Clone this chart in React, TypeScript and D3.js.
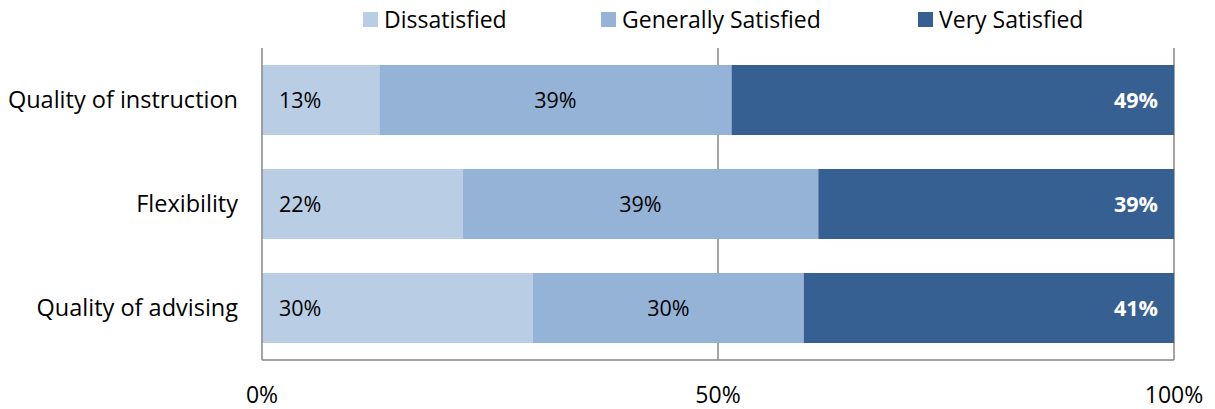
import { useEffect, useRef } from 'react';
import * as d3 from 'd3';

const categories = ['Quality of instruction', 'Flexibility', 'Quality of advising'];
const seriesNames = ['Dissatisfied', 'Generally Satisfied', 'Very Satisfied'];
const dissatisfied = [13, 22, 30];
const generallySatisfied = [39, 39, 30];
const verySatisfied = [49, 39, 41];
const xTicks = [0, 0.5, 1];

const colors = ['#B9CDE5', '#95B3D7', '#376092'];
const FONT = "'Open Sans', sans-serif";

const App: React.FC = () => {
  const svgRef = useRef<SVGSVGElement | null>(null);

  useEffect(() => {
    if (svgRef.current === null) return;
    const width = 1215;
    const height = 409;
    const margin = { top: 48, right: 41, bottom: 49, left: 262 };

    const svg = d3.select(svgRef.current).attr('width', width).attr('height', height);
    svg.selectAll('*').remove();

    // satır tablosu: her kategori için yüzdeye çevrilmiş değerler
    const rows = categories.map((c, i) => {
      const vals = [dissatisfied[i], generallySatisfied[i], verySatisfied[i]];
      const total = d3.sum(vals);
      return { category: c, vals, shares: vals.map((v) => v / total) };
    });

    const x = d3.scaleLinear().domain([0, 1]).range([margin.left, width - margin.right]);
    const y = d3
      .scaleBand<string>()
      .domain(categories)
      .range([margin.top, height - margin.bottom])
      .paddingInner(0.327)
      .paddingOuter(0.1635);

    // grid lines
    svg
      .selectAll('.grid')
      .data(xTicks.slice(1))
      .enter()
      .append('line')
      .attr('x1', (d) => x(d))
      .attr('x2', (d) => x(d))
      .attr('y1', margin.top)
      .attr('y2', height - margin.bottom)
      .attr('stroke', '#868686')
      .attr('stroke-width', 1.5);

    // bars
    rows.forEach((r) => {
      let acc = 0;
      r.shares.forEach((s, j) => {
        const x0 = x(acc);
        const x1 = x(acc + s);
        acc += s;
        svg
          .append('rect')
          .attr('x', x0)
          .attr('y', y(r.category)!)
          .attr('width', x1 - x0)
          .attr('height', y.bandwidth())
          .attr('fill', colors[j]);

        const ty = y(r.category)! + y.bandwidth() / 2 + 8;
        const t = svg
          .append('text')
          .attr('y', ty)
          .attr('font-family', FONT)
          .attr('font-size', 21.5)
          .text(`${r.vals[j]}%`);
        if (j === 0) {
          t.attr('x', x0 + 17).attr('text-anchor', 'start').attr('fill', '#000');
        } else if (j === 1) {
          t.attr('x', (x0 + x1) / 2).attr('text-anchor', 'middle').attr('fill', '#000');
        } else {
          t.attr('x', x1 - 16)
            .attr('text-anchor', 'end')
            .attr('fill', '#fff')
            .attr('font-weight', 'bold');
        }
      });
    });

    // axis lines
    svg
      .append('line')
      .attr('x1', margin.left)
      .attr('x2', margin.left)
      .attr('y1', margin.top)
      .attr('y2', height - margin.bottom)
      .attr('stroke', '#868686')
      .attr('stroke-width', 1.5);
    svg
      .append('line')
      .attr('x1', margin.left)
      .attr('x2', width - margin.right)
      .attr('y1', height - margin.bottom)
      .attr('y2', height - margin.bottom)
      .attr('stroke', '#868686')
      .attr('stroke-width', 1.5);

    // category labels
    svg
      .selectAll('.cat')
      .data(categories)
      .enter()
      .append('text')
      .attr('x', margin.left - 24)
      .attr('y', (d) => y(d)! + y.bandwidth() / 2 + 8)
      .attr('text-anchor', 'end')
      .attr('font-family', FONT)
      .attr('font-size', 23.5)
      .attr('fill', '#000')
      .text((d) => d);

    // x tick labels
    svg
      .selectAll('.tick-label')
      .data(xTicks)
      .enter()
      .append('text')
      .attr('x', (d) => x(d))
      .attr('y', 403)
      .attr('text-anchor', 'middle')
      .attr('font-family', FONT)
      .attr('font-size', 23)
      .attr('fill', '#000')
      .text((d) => d3.format('.0%')(d));

    // legend
    const legendX = [363, 601, 918];
    seriesNames.forEach((name, i) => {
      svg
        .append('rect')
        .attr('x', legendX[i])
        .attr('y', 12)
        .attr('width', 15)
        .attr('height', 15)
        .attr('fill', colors[i]);
      svg
        .append('text')
        .attr('x', legendX[i] + 21)
        .attr('y', 28)
        .attr('font-family', FONT)
        .attr('font-size', 23)
        .attr('fill', '#000')
        .text(name);
    });
  }, []);

  return (
    <div style={{ margin: -8 }}>
      <svg ref={svgRef}></svg>
    </div>
  );
};

export default App;
